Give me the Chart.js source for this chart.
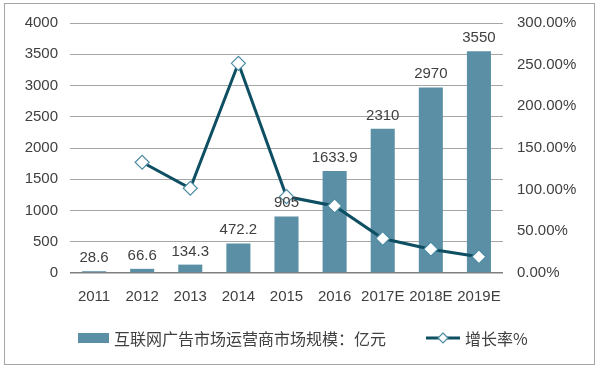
<!DOCTYPE html>
<html>
<head>
<meta charset="utf-8">
<script src="https://cdn.jsdelivr.net/npm/chart.js@4/dist/chart.umd.min.js"></script>
<style>
  body { margin: 0; background: #fff; }
  #box { position: relative; width: 600px; height: 368px; }
  #frame { position: absolute; left: 4px; top: 3px; width: 589px; height: 360px;
           border: 1px solid #a6a6a6; pointer-events: none; }
  .legend-item { position: absolute; top: 328px; height: 20px; display: flex; align-items: center;
                 font: 16px "Noto Sans CJK SC", "Liberation Sans", sans-serif; color: #404040; white-space: nowrap; }
  .legend-item canvas { margin-right: 5px; }
</style>
</head>
<body>
<div id="box">
  <canvas id="chart" width="600" height="368"></canvas>
  <div class="legend-item" id="leg-bar" style="left:78px"></div>
  <div class="legend-item" id="leg-line" style="left:426px"></div>
  <div id="frame"></div>
</div>
<script>
var years = ['2011', '2012', '2013', '2014', '2015', '2016', '2017E', '2018E', '2019E'];
var marketSize = [28.6, 66.6, 134.3, 472.2, 905, 1633.9, 2310, 2970, 3550];
var growthRate = [null, 132.9, 101.7, 251.6, 91.7, 80.5, 41.4, 28.6, 19.5];
var barName = '互联网广告市场运营商市场规模：亿元';
var lineName = '增长率%';

var barColor = '#5b8fa6';
var lineColor = '#0e4f63';
var fontFamily = '"Liberation Sans", Arial, "Noto Sans CJK SC", sans-serif';

// legend symbols
function barSymbol() {
    var c = document.createElement('canvas');
    c.width = 31; c.height = 10;
    var g = c.getContext('2d');
    g.fillStyle = barColor;
    g.fillRect(0, 0, 31, 10);
    return c;
}
function lineSymbol() {
    var c = document.createElement('canvas');
    c.width = 34; c.height = 14;
    var g = c.getContext('2d');
    g.strokeStyle = lineColor;
    g.lineWidth = 3;
    g.beginPath(); g.moveTo(0, 7); g.lineTo(34, 7); g.stroke();
    g.fillStyle = '#fff';
    g.strokeStyle = '#4b8ca2';
    g.lineWidth = 1.2;
    g.beginPath();
    g.moveTo(17, 2); g.lineTo(22, 7); g.lineTo(17, 12); g.lineTo(12, 7); g.closePath();
    g.fill(); g.stroke();
    return c;
}
function fillLegend(id, symbol, text) {
    var el = document.getElementById(id);
    el.appendChild(symbol);
    var s = document.createElement('span');
    s.textContent = text;
    el.appendChild(s);
}
fillLegend('leg-bar', barSymbol(), barName);
fillLegend('leg-line', lineSymbol(), lineName);

var barLabels = {
    id: 'barLabels',
    afterDatasetsDraw: function(chart) {
        var ctx = chart.ctx;
        var meta = chart.getDatasetMeta(0);
        ctx.save();
        ctx.font = '15px ' + fontFamily;
        ctx.fillStyle = '#404040';
        ctx.textAlign = 'center';
        ctx.textBaseline = 'alphabetic';
        meta.data.forEach(function(bar, i) {
            ctx.fillText(String(marketSize[i]), bar.x, bar.y - 9);
        });
        ctx.restore();
    }
};

var ctx = document.getElementById('chart');
var myChart = new Chart(ctx, {
    type: 'bar',
    data: {
        labels: years,
        datasets: [{
            type: 'bar',
            label: barName,
            data: marketSize,
            backgroundColor: barColor,
            yAxisID: 'y',
            order: 2,
            barPercentage: 0.5,
            categoryPercentage: 1.0
        }, {
            type: 'line',
            label: lineName,
            data: growthRate,
            borderColor: lineColor,
            borderWidth: 3,
            pointStyle: 'rectRot',
            pointRadius: 7,
            pointBackgroundColor: '#fff',
            pointBorderColor: '#4b8ca2',
            pointBorderWidth: 1.2,
            tension: 0,
            yAxisID: 'y1',
            order: 1
        }]
    },
    options: {
        responsive: false,
        animation: false,
        layout: { padding: { top: 20, left: 0, right: 0, bottom: 55 } },
        plugins: {
            tooltip: { enabled: false },
            legend: { display: false }
        },
        scales: {
            x: {
                grid: { display: false },
                border: { display: false },
                ticks: { color: '#404040', font: { size: 15, family: fontFamily }, padding: 7,
                         maxRotation: 0, minRotation: 0, autoSkip: false }
            },
            y: {
                position: 'left',
                min: 0, max: 4000,
                ticks: { stepSize: 500, color: '#404040', font: { size: 15, family: fontFamily }, padding: 12,
                         callback: function(v) { return String(v); } },
                grid: {
                    drawTicks: false,
                    color: function(c) { return c.tick.value === 0 ? '#7f7f7f' : '#a6a6a6'; },
                    lineWidth: function(c) { return c.tick.value === 0 ? 1.5 : 1; }
                },
                border: { display: false },
                afterFit: function(scale) { scale.width = 70; }
            },
            y1: {
                position: 'right',
                min: 0, max: 300,
                ticks: {
                    stepSize: 50, color: '#404040', font: { size: 15, family: fontFamily }, padding: 14,
                    callback: function(v) { return v.toFixed(2) + '%'; }
                },
                grid: { display: false, drawTicks: false },
                border: { display: false },
                afterFit: function(scale) { scale.width = 97; }
            }
        }
    },
    plugins: [barLabels]
});
</script>
</body>
</html>
